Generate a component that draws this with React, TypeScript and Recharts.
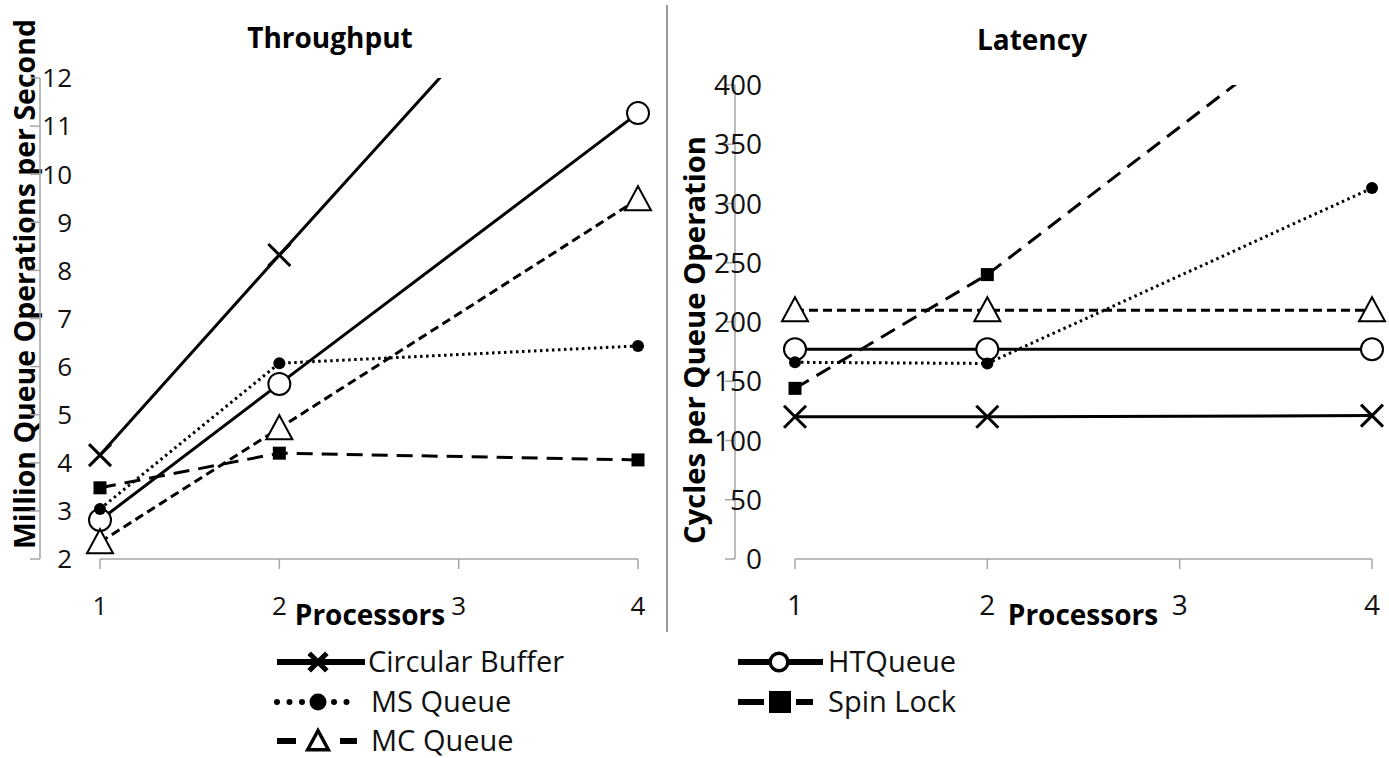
import React from 'react';
import { LineChart, Line, XAxis, YAxis, ReferenceDot } from 'recharts';

// ---------- DATA ----------
const processors = [1, 2, 4];
const xTicks = [1, 2, 3, 4];
const throughputTicks = [2, 3, 4, 5, 6, 7, 8, 9, 10, 11, 12];
const latencyTicks = [0, 50, 100, 150, 200, 250, 300, 350, 400];

const seriesKeys = ['cb', 'ht', 'ms', 'sl', 'mc'];
const seriesNames = ['Circular Buffer', 'HTQueue', 'MS Queue', 'Spin Lock', 'MC Queue'];

// Throughput (million queue operations per second)
const throughputCircularBuffer = [4.16, 8.32, 16.55];
const throughputHTQueue = [2.81, 5.64, 11.27];
const throughputMSQueue = [3.04, 6.07, 6.43];
const throughputSpinLock = [3.48, 4.2, 4.06];
const throughputMCQueue = [2.35, 4.72, 9.48];

// Latency (cycles per queue operation)
const latencyCircularBuffer = [120, 120, 121];
const latencyHTQueue = [177, 177, 177];
const latencyMSQueue = [166, 165, 313];
const latencySpinLock = [144, 240, 489];
const latencyMCQueue = [210, 210, 210];

// ---------- STYLES ----------
const FONT = '"Open Sans", "Noto Sans", "DejaVu Sans", sans-serif';
const AXIS = '#a6a6a6';
const STYLE: Record<string, { marker: string; dash?: string; width: number }> = {
  cb: { marker: 'x', width: 3 },
  ht: { marker: 'circleOpen', width: 3 },
  ms: { marker: 'circleFilled', dash: '2.5 3.5', width: 3 },
  sl: { marker: 'square', dash: '16 9', width: 3 },
  mc: { marker: 'triangle', dash: '9 5', width: 3 },
};

function buildRows(cols: number[][]) {
  return processors.map((p, i) => {
    const row: Record<string, number> = { p };
    seriesKeys.forEach((k, j) => {
      row[k] = cols[j][i];
    });
    return row;
  });
}

const throughputRows = buildRows([
  throughputCircularBuffer,
  throughputHTQueue,
  throughputMSQueue,
  throughputSpinLock,
  throughputMCQueue,
]);
const latencyRows = buildRows([
  latencyCircularBuffer,
  latencyHTQueue,
  latencyMSQueue,
  latencySpinLock,
  latencyMCQueue,
]);

function Marker({
  kind,
  cx,
  cy,
  s = 1,
  sw = 1,
}: {
  kind: string;
  cx: number;
  cy: number;
  s?: number;
  sw?: number;
}) {
  if (cx == null || cy == null || Number.isNaN(cx) || Number.isNaN(cy)) return <g />;
  switch (kind) {
    case 'x': {
      const d = 11 * s;
      return (
        <g stroke="#000" strokeWidth={3 * sw}>
          <line x1={cx - d} y1={cy - d} x2={cx + d} y2={cy + d} />
          <line x1={cx - d} y1={cy + d} x2={cx + d} y2={cy - d} />
        </g>
      );
    }
    case 'circleOpen':
      return <circle cx={cx} cy={cy} r={11 * s} fill="#fff" stroke="#000" strokeWidth={2 * sw} />;
    case 'circleFilled':
      return <circle cx={cx} cy={cy} r={6 * s} fill="#000" stroke="none" />;
    case 'square':
      return <rect x={cx - 6.5 * s} y={cy - 6.5 * s} width={13 * s} height={13 * s} fill="#000" />;
    case 'triangle': {
      return (
        <path
          d={`M${cx},${cy - 13 * s} L${cx + 13 * s},${cy + 11 * s} L${cx - 13 * s},${cy + 11 * s} Z`}
          fill="#fff"
          stroke="#000"
          strokeWidth={2 * sw}
          strokeLinejoin="miter"
        />
      );
    }
    default:
      return <g />;
  }
}

function makeXTick(fontSize: number) {
  return (props: any) => {
    const { x, y, payload } = props;
    return (
      <text x={x} y={y + 44} textAnchor="middle" fontFamily={FONT} fontSize={fontSize} fill="#111">
        {payload.value}
      </text>
    );
  };
}

function makeYTick(labelRight: number, fontSize: number) {
  return (props: any) => {
    const { y, payload } = props;
    return (
      <text x={labelRight} y={y} dy="0.36em" textAnchor="end" fontFamily={FONT} fontSize={fontSize} fill="#111">
        {payload.value}
      </text>
    );
  };
}

function Panel(props: {
  rows: Record<string, number>[];
  ticks: number[];
  domain: [number, number];
  clippedKey: string;
  width: number;
  margin: { top: number; right: number; left: number; bottom: number };
  yAxisWidth: number;
  labelRight: number;
  fontSize: number;
}) {
  const { rows, ticks, domain, clippedKey, width, margin, yAxisWidth, labelRight, fontSize } = props;
  const cs = STYLE[clippedKey];
  return (
    <LineChart width={width} height={640} data={rows} margin={margin}>
      <XAxis
        type="number"
        dataKey="p"
        domain={[1, 4]}
        ticks={xTicks}
        interval={0}
        height={81}
        tickSize={10}
        axisLine={{ stroke: AXIS, strokeWidth: 1.5 }}
        tickLine={{ stroke: AXIS, strokeWidth: 1.5 }}
        tick={makeXTick(fontSize)}
      />
      <YAxis
        yAxisId="main"
        type="number"
        domain={domain}
        ticks={ticks}
        interval={0}
        width={yAxisWidth}
        tickSize={10}
        axisLine={{ stroke: AXIS, strokeWidth: 1.5 }}
        tickLine={{ stroke: AXIS, strokeWidth: 1.5 }}
        tick={makeYTick(labelRight, fontSize)}
      />
      <YAxis yAxisId="clip" hide type="number" domain={domain} allowDataOverflow />
      {seriesKeys
        .filter((k) => k !== clippedKey)
        .map((k) => {
          const st = STYLE[k];
          return (
            <Line
              key={k}
              yAxisId="main"
              dataKey={k}
              name={seriesNames[seriesKeys.indexOf(k)]}
              stroke="#000"
              strokeWidth={st.width}
              strokeDasharray={st.dash}
              isAnimationActive={false}
              dot={(p: any) => <Marker key={`${k}-${p.index}`} kind={st.marker} cx={p.cx} cy={p.cy} />}
              activeDot={false}
            />
          );
        })}
      <Line
        key={clippedKey}
        yAxisId="clip"
        dataKey={clippedKey}
        name={seriesNames[seriesKeys.indexOf(clippedKey)]}
        stroke="#000"
        strokeWidth={cs.width}
        strokeDasharray={cs.dash}
        isAnimationActive={false}
        dot={false}
        activeDot={false}
      />
      {rows.map((r, i) => (
        <ReferenceDot
          key={`ref-${i}`}
          yAxisId="clip"
          x={r.p}
          y={r[clippedKey]}
          ifOverflow="discard"
          shape={(sp: any) => <Marker kind={cs.marker} cx={sp.cx} cy={sp.cy} />}
        />
      ))}
    </LineChart>
  );
}

// legend sample geometry: [left segment], marker, [right segment]
const legendLayout = [
  { key: 'cb', segs: [[277, 365]], mx: 318, tx: 368, y: 662 },
  { key: 'ht', segs: [[738, 823]], mx: 779, tx: 828, y: 662 },
  { key: 'ms', segs: [[277, 304], [334, 357]], mx: 318, tx: 371, y: 702 },
  { key: 'sl', segs: [[738, 764], [796, 813]], mx: 780, tx: 828, y: 702 },
  { key: 'mc', segs: [[277, 296], [340, 357]], mx: 318, tx: 371, y: 741 },
];

function LegendSample({ k, segs, mx, y }: { k: string; segs: number[][]; mx: number; y: number }) {
  const st = STYLE[k];
  return (
    <g>
      {segs.map((sg, i) =>
        k === 'ms' ? (
          <line
            key={i}
            x1={sg[0]}
            y1={y}
            x2={sg[1]}
            y2={y}
            stroke="#000"
            strokeWidth={6}
            strokeLinecap="round"
            strokeDasharray="0 12.5"
          />
        ) : (
          <line key={i} x1={sg[0]} y1={y} x2={sg[1]} y2={y} stroke="#000" strokeWidth={6} />
        )
      )}
      {k === 'ms' ? (
        <circle cx={mx} cy={y} r={8.5} fill="#000" />
      ) : k === 'sl' ? (
        <rect x={mx - 11} y={y - 11} width={22} height={22} fill="#000" />
      ) : (
        <Marker kind={st.marker} cx={mx} cy={y} s={0.8} sw={1.7} />
      )}
    </g>
  );
}

export default function App() {
  return (
    <div
      style={{
        position: 'absolute',
        left: 0,
        top: 0,
        width: 1389,
        height: 758,
        background: '#fff',
        overflow: 'hidden',
      }}
    >
      <svg width={1389} height={758} style={{ position: 'absolute', left: 0, top: 0 }} fontFamily={FONT}>
        <line x1={667} y1={5} x2={667} y2={632} stroke="#999" strokeWidth={2} />
        <text x={330} y={38} dy="0.36em" textAnchor="middle" fontSize={28} fontWeight="bold" fill="#000">
          Throughput
        </text>
        <text x={1032} y={40} dy="0.36em" textAnchor="middle" fontSize={28} fontWeight="bold" fill="#000">
          Latency
        </text>
        <text
          transform="translate(35,284) rotate(-90)"
          textAnchor="middle"
          fontSize={28}
          fontWeight="bold"
          fill="#000"
          textLength={530}
          lengthAdjust="spacingAndGlyphs"
        >
          Million Queue Operations per Second
        </text>
        <text
          transform="translate(705,340) rotate(-90)"
          textAnchor="middle"
          fontSize={28}
          fontWeight="bold"
          fill="#000"
          textLength={408}
          lengthAdjust="spacingAndGlyphs"
        >
          Cycles per Queue Operation
        </text>
        <text x={370} y={615} dy="0.36em" textAnchor="middle" fontSize={28} fontWeight="bold" fill="#000">
          Processors
        </text>
        <text x={1083} y={615} dy="0.36em" textAnchor="middle" fontSize={28} fontWeight="bold" fill="#000">
          Processors
        </text>
        {legendLayout.map((l) => (
          <g key={l.key}>
            <LegendSample k={l.key} segs={l.segs} mx={l.mx} y={l.y} />
            <text x={l.tx} y={l.y} dy="0.36em" fontSize={29} fill="#111">
              {seriesNames[seriesKeys.indexOf(l.key)]}
            </text>
          </g>
        ))}
      </svg>
      <div style={{ position: 'absolute', left: 0, top: 0 }}>
        <Panel
          rows={throughputRows}
          ticks={throughputTicks}
          domain={[2, 12]}
          clippedKey="cb"
          width={667}
          margin={{ top: 78, right: 29, left: 0, bottom: 0 }}
          yAxisWidth={100}
          labelRight={72}
          fontSize={26}
        />
      </div>
      <div style={{ position: 'absolute', left: 667, top: 0 }}>
        <Panel
          rows={latencyRows}
          ticks={latencyTicks}
          domain={[0, 400]}
          clippedKey="sl"
          width={722}
          margin={{ top: 85, right: 17, left: 0, bottom: 0 }}
          yAxisWidth={128}
          labelRight={95}
          fontSize={28}
        />
      </div>
    </div>
  );
}
